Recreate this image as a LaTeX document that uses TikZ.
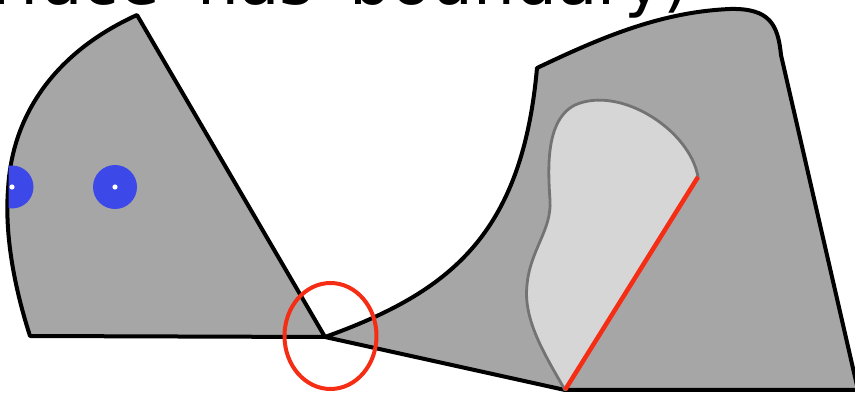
\documentclass[tikz,border=0pt]{standalone}
\usepackage{fontspec}
\newfontfamily\titlefont{DejaVu Sans}
\definecolor{shapegray}{RGB}{166,166,166}
\definecolor{holegray}{RGB}{214,214,214}
\definecolor{holeline}{RGB}{115,115,115}
\definecolor{dotblue}{RGB}{60,72,232}
\definecolor{markred}{RGB}{245,45,20}
\tikzset{
  surface/.style={fill=shapegray, draw=black, line width=4pt, line join=round},
  hole/.style={fill=holegray},
  holeedge/.style={draw=holeline, line width=2.8pt, line cap=round},
  redline/.style={draw=markred, line width=4.5pt},
  bluedot/.style={fill=dotblue},
  whitedot/.style={fill=white},
  titletext/.style={inner sep=0pt, font=\titlefont\fontsize{66}{70}\selectfont}
}
\begin{document}
\begin{tikzpicture}[x=1pt, y=-1pt]
\useasboundingbox (0,0) rectangle (855,395);
\clip (0,0) rectangle (855,395);
% title, mostly cut off at the top
\node[titletext, anchor=base east] (w1) at (160,5) {surface};
\node[titletext, anchor=base west] (w2) at (197,5) {has};
\node[titletext, anchor=base west] (w3) at (349,5) {boundary)};
% left piece
\draw[surface] (30,336) .. controls (12,280) and (5,230) .. (8,190)
   .. controls (12,110) and (60,50) .. (137,15) -- (325,337) -- cycle;
% blue dots
\begin{scope}
  \clip (8.5,100) rectangle (200,260);
  \fill[bluedot] (12,187) circle (21.5);
\end{scope}
\fill[whitedot] (12,187) circle (2.6);
\fill[bluedot] (115,187) circle (22);
\fill[whitedot] (115,187) circle (2.6);
% right piece
\draw[surface] (325,337) .. controls (450,292) and (522,235) .. (537,68)
   .. controls (600,38) and (660,12) .. (730,9)
   .. controls (770,8) and (778,25) .. (781,55)
   -- (858,390) -- (565,390) -- cycle;
% light region
\fill[hole] (565,390) .. controls (545,355) and (523,320) .. (527,285)
   .. controls (530,250) and (552,230) .. (550,200)
   .. controls (548,170) and (545,120) .. (575,105)
   .. controls (620,85) and (690,130) .. (698,177) -- cycle;
\draw[holeedge] (565,390) .. controls (545,355) and (523,320) .. (527,285)
   .. controls (530,250) and (552,230) .. (550,200)
   .. controls (548,170) and (545,120) .. (575,105)
   .. controls (620,85) and (690,130) .. (698,177);
\coordinate (rtop) at (698,177);
\coordinate (rbot) at (565,390);
\draw[redline] (rtop) -- (rbot);
% red ellipse at the pinch point
\draw[markred, line width=4pt] (330.5,336) ellipse (46 and 53);
\end{tikzpicture}
\end{document}
